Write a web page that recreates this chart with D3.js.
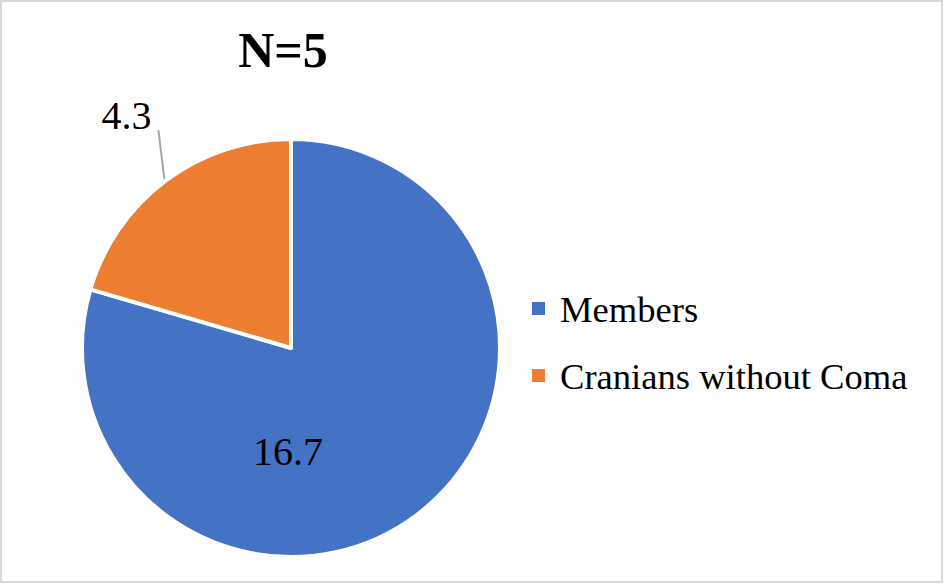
<!DOCTYPE html>
<html><head><meta charset="utf-8">
<script src="https://cdn.jsdelivr.net/npm/d3@7"></script>
<style>body{margin:0;background:#fff}svg{display:block}</style>
</head><body>
<svg id="c" width="944" height="585"></svg>
<script>
const categories = ["Members", "Cranians without Coma"];
const values = [16.7, 4.3];
const labels = ["16.7", "4.3"];
const colors = ["#4472C4", "#ED7D31"];
const title = "N=5";

const svg = d3.select("#c");
const font = "'Liberation Serif','Times New Roman',serif";
svg.append("rect").attr("x",1).attr("y",1).attr("width",941).attr("height",581)
  .attr("fill","#fff").attr("stroke","#d9d9d9").attr("stroke-width",2);

svg.append("text").attr("x",283).attr("y",67).attr("text-anchor","middle")
  .attr("font-family",font).attr("font-weight","bold").attr("font-size",50).text(title);

const cx = 291, cy = 348, r = 209;
const pie = d3.pie().sort(null).value(d=>d)(values);
const arc = d3.arc().innerRadius(0).outerRadius(r);
const g = svg.append("g").attr("transform",`translate(${cx},${cy})`);
g.selectAll("path").data(pie).join("path").attr("d",arc)
  .attr("fill",(d,i)=>colors[i]).attr("stroke","#fff").attr("stroke-width",4).attr("stroke-linejoin","round");

// label inside big slice
g.append("text").attr("x",-3).attr("y",117).attr("text-anchor","middle")
  .attr("font-family",font).attr("font-size",40).text(labels[0]);

// leader line + outside label for small slice
const mid = (pie[1].startAngle + pie[1].endAngle)/2;
const start = [r*1.01*Math.sin(mid), -r*1.01*Math.cos(mid)];
const end = [start[0]-6, start[1]-49];
g.append("line").attr("x1",start[0]).attr("y1",start[1]).attr("x2",end[0]).attr("y2",end[1])
  .attr("stroke","#a6a6a6").attr("stroke-width",2);
g.append("text").attr("x",end[0]-32).attr("y",end[1]-1).attr("text-anchor","middle")
  .attr("font-family",font).attr("font-size",40).text(labels[1]);

// legend
const leg = svg.append("g");
const ly = d3.scalePoint().domain(categories).range([322, 389]);
categories.forEach((c,i)=>{
  leg.append("rect").attr("x",532).attr("y",ly(c)-20).attr("width",13).attr("height",13).attr("fill",colors[i]);
  leg.append("text").attr("x",560).attr("y",ly(c)).attr("font-family",font).attr("font-size",36.6).text(c);
});
</script>
</body></html>
